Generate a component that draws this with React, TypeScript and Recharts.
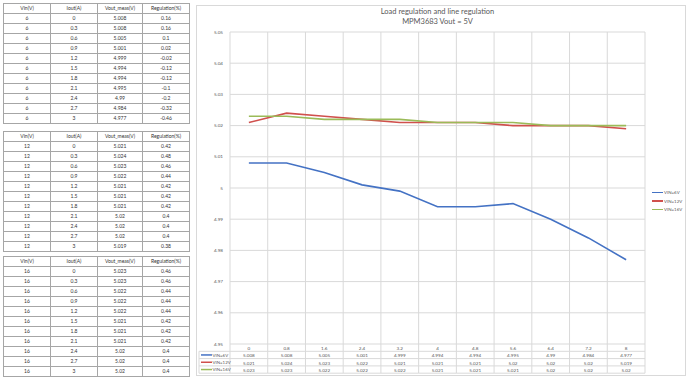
import React from 'react';
import { LineChart, Line, XAxis, YAxis, CartesianGrid } from 'recharts';

// chart categories (x axis) and the three measured series
const CATS = ['0', '0.8', '1.6', '2.4', '3.2', '4', '4.8', '5.6', '6.4', '7.2', '8'];
const VIN6 = [5.008, 5.008, 5.005, 5.001, 4.999, 4.994, 4.994, 4.995, 4.99, 4.984, 4.977];
const VIN12 = [5.021, 5.024, 5.023, 5.022, 5.021, 5.021, 5.021, 5.02, 5.02, 5.02, 5.019];
const VIN16 = [5.023, 5.023, 5.022, 5.022, 5.022, 5.021, 5.021, 5.021, 5.02, 5.02, 5.02];
const SERIES_NAMES = ['VIN=6V', 'VIN=12V', 'VIN=16V'];
const Y_TICKS = [4.95, 4.96, 4.97, 4.98, 4.99, 5, 5.01, 5.02, 5.03, 5.04, 5.05];

// left-hand measurement tables
const TABLE_HEAD = ['Vin(V)', 'Iout(A)', 'Vout_meas(V)', 'Regulation(%)'];
const VIN_LEVELS = ['6', '12', '16'];
const IOUT = ['0', '0.3', '0.6', '0.9', '1.2', '1.5', '1.8', '2.1', '2.4', '2.7', '3'];
const REG6 = [0.16, 0.16, 0.1, 0.02, -0.02, -0.12, -0.12, -0.1, -0.2, -0.32, -0.46];
const REG12 = [0.42, 0.48, 0.46, 0.44, 0.42, 0.42, 0.42, 0.4, 0.4, 0.4, 0.38];
const REG16 = [0.46, 0.46, 0.44, 0.44, 0.44, 0.42, 0.42, 0.42, 0.4, 0.4, 0.4];

const COLORS = ['#4472C4', '#D0504D', '#9BBB59'];
const SERIES = [VIN6, VIN12, VIN16];
const KEYS = ['v6', 'v12', 'v16'];
const REGS = [REG6, REG12, REG16];

const data = CATS.map((c, i) => ({ cat: c, v6: VIN6[i], v12: VIN12[i], v16: VIN16[i] }));

const FONT = "Lato, 'Open Sans', sans-serif";
const CHART_W = 490;
const CHART_H = 371;
const PLOT_L = 34;
const PLOT_R = 449;
const PLOT_T = 27;
const PLOT_B = 339;
const CELL = (PLOT_R - PLOT_L) / CATS.length;
const ROW_H = 7.3;
const GRID = '#d9d9d9';
const TXT = '#595959';

const TableTick = (props: any) => {
  const { x, payload } = props;
  const index = props.index ?? payload.index;
  const half = CELL / 2;
  const rows = [0, 1, 2, 3, 4].map((r) => PLOT_B + r * ROW_H);
  return (
    <g>
      <text x={x} y={PLOT_B + ROW_H * 0.55} textAnchor="middle" dominantBaseline="central" fontSize={4.6} fill={TXT} fontFamily={FONT}>
        {payload.value}
      </text>
      {SERIES.map((s, si) => (
        <text key={si} x={x} y={PLOT_B + ROW_H * (si + 1.55)} textAnchor="middle" dominantBaseline="central" fontSize={4.6} fill={TXT} fontFamily={FONT}>
          {String(s[index])}
        </text>
      ))}
      {rows.slice(1).map((ry, ri) => (
        <line key={ri} x1={x - half} x2={x + half} y1={ry} y2={ry} stroke={GRID} strokeWidth={1} />
      ))}
      <line x1={x + half} x2={x + half} y1={PLOT_B} y2={rows[4]} stroke={GRID} strokeWidth={1} />
      {index === 0 && (
        <g>
          <line x1={x - half} x2={x - half} y1={PLOT_B} y2={rows[4]} stroke={GRID} strokeWidth={1} />
          <line x1={3} x2={3} y1={rows[1]} y2={rows[4]} stroke={GRID} strokeWidth={1} />
          {rows.slice(1).map((ry, ri) => (
            <line key={ri} x1={3} x2={x - half} y1={ry} y2={ry} stroke={GRID} strokeWidth={1} />
          ))}
          {SERIES_NAMES.map((n, si) => (
            <g key={si}>
              <line x1={5} x2={16} y1={PLOT_B + ROW_H * (si + 1.5)} y2={PLOT_B + ROW_H * (si + 1.5)} stroke={COLORS[si]} strokeWidth={1.5} />
              <text x={16.5} y={PLOT_B + ROW_H * (si + 1.55)} dominantBaseline="central" fontSize={4.4} fill={TXT} fontFamily={FONT}>
                {n}
              </text>
            </g>
          ))}
        </g>
      )}
    </g>
  );
};

const MeasTable = ({ vin, values, regs, top }: { vin: string; values: number[]; regs: number[]; top: number }) => {
  const cell: React.CSSProperties = {
    border: '1px solid #a6a6a6',
    padding: 0,
    textAlign: 'center',
    fontSize: 5,
    color: '#333',
    height: 9,
    lineHeight: '9px',
    whiteSpace: 'nowrap',
  };
  return (
    <table
      style={{
        position: 'absolute',
        left: 3,
        top,
        width: 186,
        borderCollapse: 'collapse',
        tableLayout: 'fixed',
        fontFamily: FONT,
      }}
    >
      <colgroup>
        <col style={{ width: 47 }} />
        <col style={{ width: 47 }} />
        <col style={{ width: 45 }} />
        <col style={{ width: 47 }} />
      </colgroup>
      <tbody>
        <tr>
          {TABLE_HEAD.map((h) => (
            <td key={h} style={cell}>{h}</td>
          ))}
        </tr>
        {IOUT.map((io, i) => (
          <tr key={i}>
            <td style={cell}>{vin}</td>
            <td style={cell}>{io}</td>
            <td style={cell}>{String(values[i])}</td>
            <td style={cell}>{String(regs[i])}</td>
          </tr>
        ))}
      </tbody>
    </table>
  );
};

export default function App() {
  return (
    <div style={{ position: 'absolute', left: 0, top: 0, width: 690, height: 379, background: '#fff', fontFamily: FONT, overflow: 'hidden' }}>
      {VIN_LEVELS.map((v, i) => (
        <MeasTable key={v} vin={v} values={SERIES[i]} regs={REGS[i]} top={[3, 131, 256][i]} />
      ))}

      <div style={{ position: 'absolute', left: 196, top: 5, width: CHART_W - 2, height: CHART_H - 2, border: `1px solid ${GRID}` }} />

      <div style={{ position: 'absolute', left: 196, top: 5 }}>
        <LineChart width={CHART_W} height={CHART_H} data={data} margin={{ top: PLOT_T, right: CHART_W - PLOT_R, bottom: 0, left: 0 }}>
          <CartesianGrid
            stroke={GRID}
            strokeWidth={1}
            verticalCoordinatesGenerator={({ offset }: any) =>
              CATS.map((_, i) => offset.left + i * (offset.width / CATS.length)).concat([offset.left + offset.width])
            }
          />
          <XAxis
            dataKey="cat"
            type="category"
            interval={0}
            padding={{ left: CELL / 2, right: CELL / 2 }}
            axisLine={false}
            tickLine={false}
            height={CHART_H - PLOT_B}
            tick={(p: any) => <TableTick {...p} />}
          />
          <YAxis
            domain={[4.95, 5.05]}
            ticks={Y_TICKS}
            width={PLOT_L}
            axisLine={false}
            tickLine={false}
            tickSize={0}
            tickMargin={7}
            tickFormatter={(v: number) => String(v)}
            tick={{ fontSize: 4.6, fill: TXT, fontFamily: FONT }}
            allowDataOverflow
          />
          {KEYS.map((k, i) => (
            <Line
              key={k}
              type="linear"
              dataKey={k}
              name={SERIES_NAMES[i]}
              stroke={COLORS[i]}
              strokeWidth={1.6}
              dot={false}
              isAnimationActive={false}
            />
          ))}
        </LineChart>
      </div>

      <div style={{ position: 'absolute', left: 230, width: 415, top: 7, textAlign: 'center', fontSize: 7.5, lineHeight: '10px', color: TXT }}>
        Load regulation and line regulation
        <br />
        MPM3683 Vout = 5V
      </div>

      <div style={{ position: 'absolute', left: 652, top: 188 }}>
        {SERIES_NAMES.map((n, i) => (
          <div key={n} style={{ display: 'flex', alignItems: 'center', height: 8.7 }}>
            <div style={{ width: 11, height: 1.5, background: COLORS[i], marginRight: 1 }} />
            <span style={{ fontSize: 4.4, color: TXT, whiteSpace: 'nowrap' }}>{n}</span>
          </div>
        ))}
      </div>
    </div>
  );
}
